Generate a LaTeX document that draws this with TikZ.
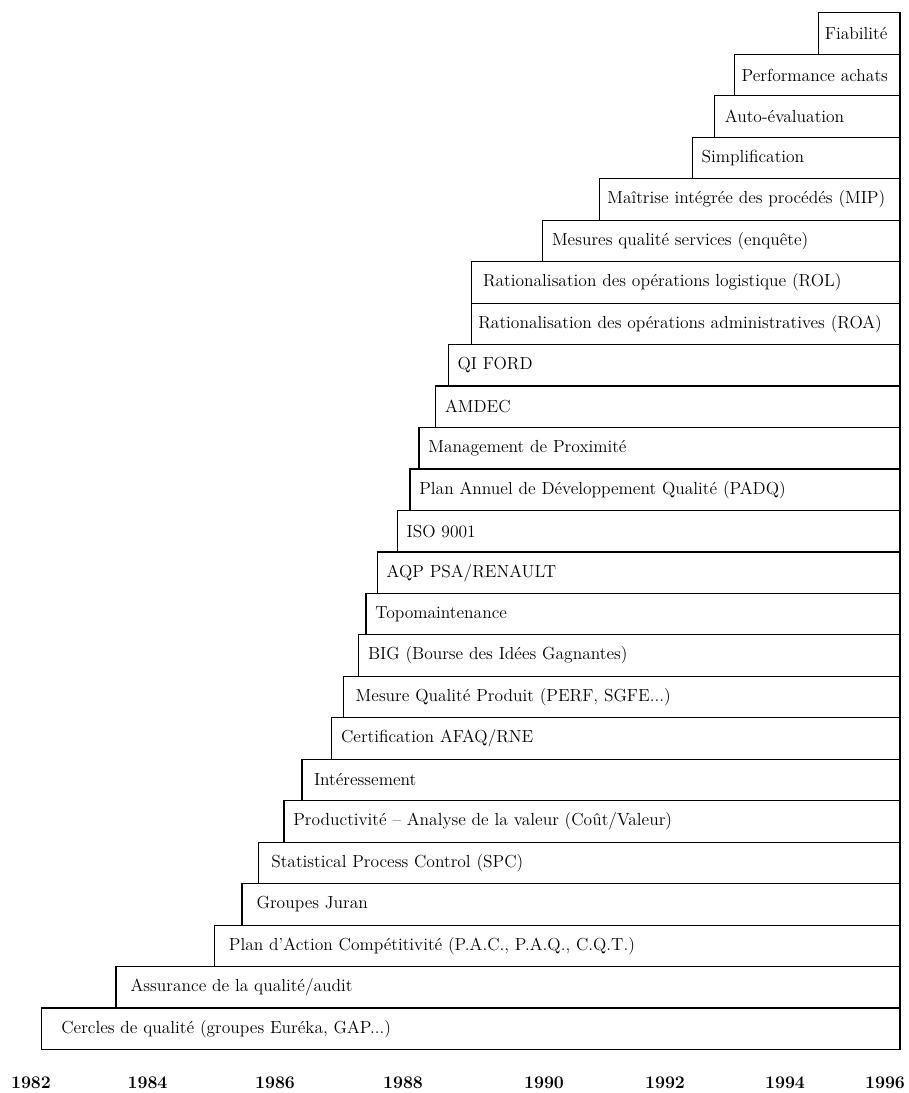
\documentclass[tikz,border=0pt]{standalone}
\usepackage{tikz}
\usetikzlibrary{positioning}

\begin{document}
\begin{tikzpicture}[x=0.75pt, y=-0.75pt]

    \tikzstyle{bar} = [rectangle, draw, line width=0.9pt, outer sep=0pt, minimum height=31.1pt, inner xsep=7pt, inner ysep=0pt, align=left, font=\fontsize{13.1}{15}\selectfont]
    \tikzstyle{year} = [font=\fontsize{13.3}{15}\selectfont\bfseries]

    \useasboundingbox (0,0) rectangle (908,1093);

    % stack of actions, bottom to top
    \node (cercles) [bar, inner xsep=15pt, text width=614pt, anchor=south east] at (900,1049.5) {Cercles de qualité (groupes Euréka, GAP...)};
    \node (assurance) [bar, inner xsep=11pt, text width=566pt, above left=0pt and 0pt of cercles.north east] {Assurance de la qualité/audit};
    \node (pac) [bar, inner xsep=11pt, text width=492.3pt, above left=0pt and 0pt of assurance.north east] {Plan d'Action Compétitivité (P.A.C., P.A.Q., C.Q.T.)};
    \node (juran) [bar, inner xsep=11pt, text width=471.5pt, above left=0pt and 0pt of pac.north east] {Groupes Juran};
    \node (spc) [bar, inner xsep=9.5pt, text width=462pt, above left=0pt and 0pt of juran.north east] {Statistical Process Control (SPC)};
    \node (productivite) [bar, text width=448pt, above left=0pt and 0pt of spc.north east] {Productivité -- Analyse de la valeur (Coût/Valeur)};
    \node (interessement) [bar, inner xsep=9pt, text width=430.5pt, above left=0pt and 0pt of productivite.north east] {Intéressement};
    \node (afaq) [bar, text width=412.2pt, above left=0pt and 0pt of interessement.north east] {Certification AFAQ/RNE};
    \node (mqp) [bar, inner xsep=9pt, text width=399.2pt, above left=0pt and 0pt of afaq.north east] {Mesure Qualité Produit (PERF, SGFE...)};
    \node (big) [bar, text width=392pt, above left=0pt and 0pt of mqp.north east] {BIG (Bourse des Idées Gagnantes)};
    \node (topo) [bar, text width=386.5pt, above left=0pt and 0pt of big.north east] {Topomaintenance};
    \node (aqp) [bar, text width=378pt, above left=0pt and 0pt of topo.north east] {AQP PSA/RENAULT};
    \node (iso) [bar, text width=363pt, above left=0pt and 0pt of aqp.north east] {ISO 9001};
    \node (padq) [bar, text width=353.5pt, above left=0pt and 0pt of iso.north east] {Plan Annuel de Développement Qualité (PADQ)};
    \node (proximite) [bar, text width=346.7pt, above left=0pt and 0pt of padq.north east] {Management de Proximité};
    \node (amdec) [bar, text width=334.2pt, above left=0pt and 0pt of proximite.north east] {AMDEC};
    \node (qiford) [bar, text width=324.8pt, above left=0pt and 0pt of amdec.north east] {QI FORD};
    \node (roa) [bar, inner xsep=5pt, text width=311.2pt, above left=0pt and 0pt of qiford.north east] {Rationalisation des opérations administratives (ROA)};
    \node (rol) [bar, inner xsep=8.5pt, text width=304.2pt, above left=0pt and 0pt of roa.north east] {Rationalisation des opérations logistique (ROL)};
    \node (services) [bar, text width=254pt, above left=0pt and 0pt of rol.north east] {Mesures qualité services (enquête)};
    \node (mip) [bar, inner xsep=6pt, text width=213.5pt, above left=0pt and 0pt of services.north east] {Maîtrise intégrée des procédés (MIP)};
    \node (simplif) [bar, text width=141.8pt, above left=0pt and 0pt of mip.north east] {Simplification};
    \node (autoeval) [bar, inner xsep=8pt, text width=123.3pt, above left=0pt and 0pt of simplif.north east] {Auto-évaluation};
    \node (achats) [bar, inner xsep=5.5pt, text width=113.3pt, above left=0pt and 0pt of autoeval.north east] {\mbox{Performance achats}};
    \node (fiabilite) [bar, inner xsep=5pt, text width=51.3pt, above left=0pt and 0pt of achats.north east] {\mbox{Fiabilité}};

    % time axis
    \node (y1982) [year] at (31,1083) {1982};
    \node (y1984) [year] at (147.5,1083) {1984};
    \node (y1986) [year] at (275,1083) {1986};
    \node (y1988) [year] at (403,1083) {1988};
    \node (y1990) [year] at (544,1083) {1990};
    \node (y1992) [year] at (665,1083) {1992};
    \node (y1994) [year] at (785,1083) {1994};
    \node (y1996) [year] at (885,1083) {1996};

\end{tikzpicture}
\end{document}
